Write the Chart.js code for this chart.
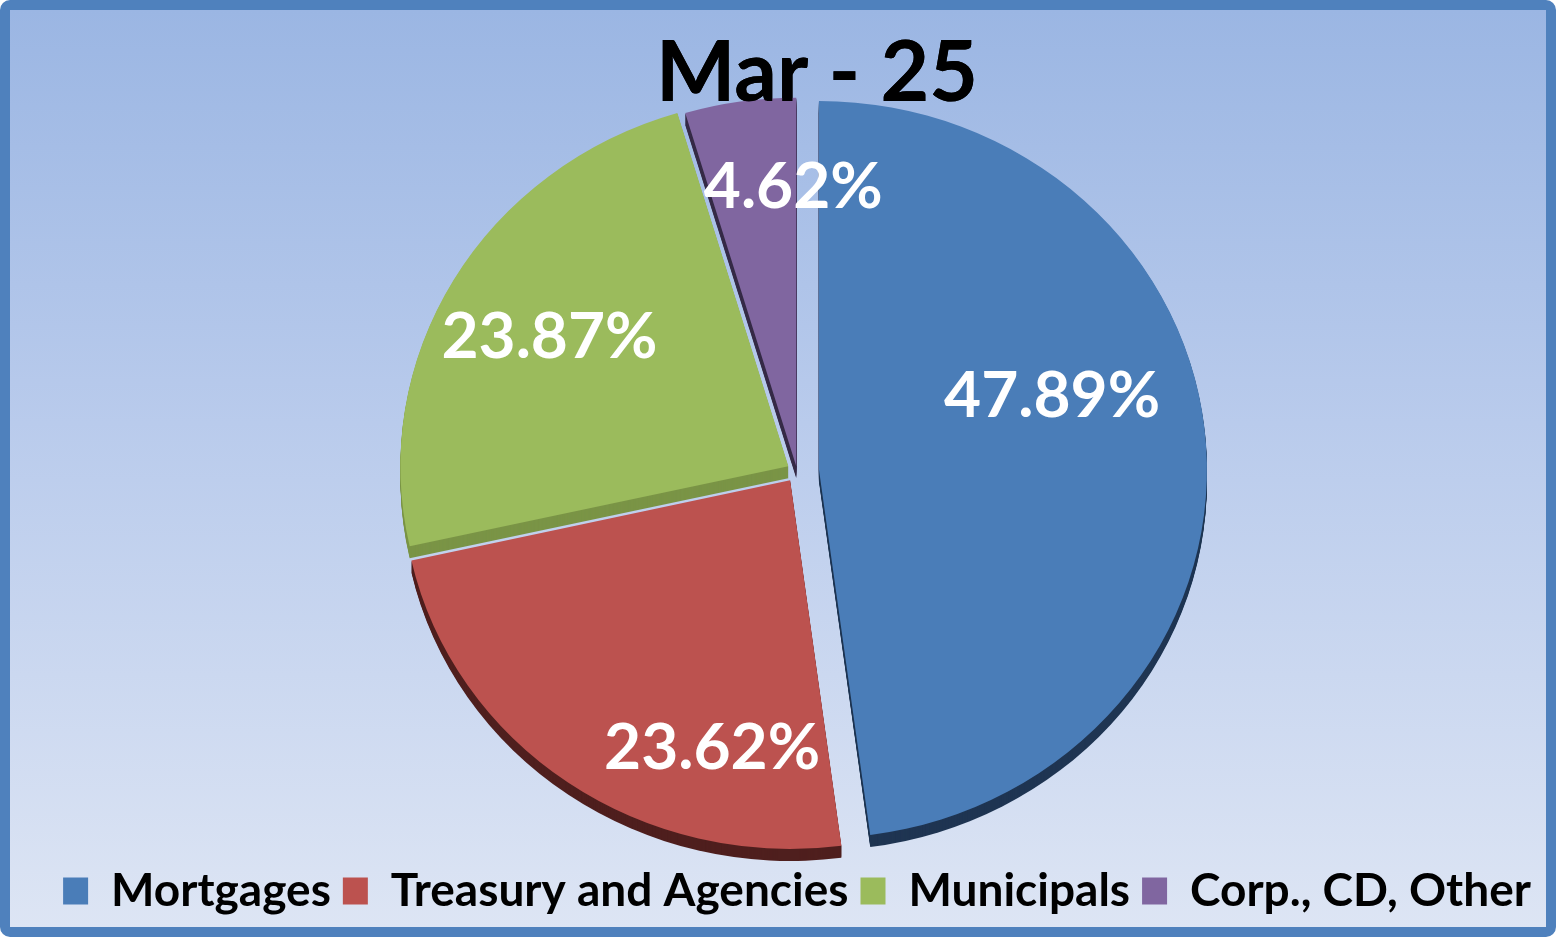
<!DOCTYPE html>
<html><head><meta charset="utf-8">
<script src="https://cdn.jsdelivr.net/npm/chart.js@4.4.1/dist/chart.umd.min.js"></script>
<style>
html,body{margin:0;padding:0;background:#fff;}
#frame{position:absolute;left:0;top:0;width:1556px;height:937px;box-sizing:border-box;border:10px solid #4f81bd;border-radius:10px;background:linear-gradient(to bottom,#9bb6e3 0%,#b9cbec 45%,#dde5f4 100%);}
#c{position:absolute;left:0;top:0;}
</style></head><body>
<div id="frame"></div>
<canvas id="c" width="1556" height="937"></canvas>
<script>
// ---- data ----
const chartTitle = 'Mar - 25';
const categories = ['Mortgages', 'Treasury and Agencies', 'Municipals', 'Corp., CD, Other'];
const shares = [47.89, 23.62, 23.87, 4.62];
const valueLabels = ['47.89%', '23.62%', '23.87%', '4.62%'];

// ---- styles ----
const sliceColors = ['#4a7db8', '#bc524f', '#9bbb5c', '#8066a0'];
const sideColors = ['#1f3552', '#4f1f1e', '#7a9446', '#362b47'];

Chart.defaults.font.family = 'Lato, "Open Sans", sans-serif';

const pie3d = {
  id: 'pie3d',
  afterLayout(chart, args, opts) {
    const t = chart.titleBlock;
    if (t) { t.left += opts.titleShift; t.right += opts.titleShift; }
  },
  beforeDatasetsDraw(chart, args, opts) {
    const ctx = chart.ctx;
    const arcs = chart.getDatasetMeta(0).data;
    const sy = opts.squash;
    const place = (el, i, dy) => {
      const cx = el.x, cy = el.y;
      const h = (el.startAngle + el.endAngle) / 2;
      ctx.translate(0, dy);
      ctx.translate(cx, cy); ctx.scale(1, sy); ctx.translate(-cx, -cy);
      ctx.translate(Math.cos(h) * opts.explode[i], Math.sin(h) * opts.explode[i]);
    };
    // sides (extrusion)
    arcs.forEach((el, i) => {
      for (let d = opts.depth; d > 0; d -= 1) {
        ctx.save();
        place(el, i, d);
        ctx.beginPath();
        ctx.moveTo(el.x, el.y);
        ctx.arc(el.x, el.y, el.outerRadius, el.startAngle, el.endAngle);
        ctx.closePath();
        ctx.fillStyle = opts.sideColors[i];
        ctx.fill();
        ctx.restore();
      }
    });
    // top faces
    arcs.forEach((el, i) => {
      ctx.save();
      place(el, i, 0);
      el.draw(ctx);
      ctx.restore();
    });
    return false;
  },
  afterDraw(chart, args, opts) {
    const ctx = chart.ctx;
    const arcs = chart.getDatasetMeta(0).data;
    // title drawn above the pie
    if (chart.titleBlock) chart.titleBlock.draw(chart.chartArea);
    ctx.save();
    ctx.fillStyle = '#ffffff';
    ctx.font = 'bold ' + opts.labelSize + 'px Lato, "Open Sans", sans-serif';
    ctx.textAlign = 'center';
    ctx.textBaseline = 'middle';
    arcs.forEach((el, i) => {
      const h = (el.startAngle + el.endAngle) / 2;
      const vx = el.x + Math.cos(h) * opts.explode[i];
      const vy = el.y + Math.sin(h) * opts.explode[i] * opts.squash;
      const a = h + opts.labelAdj[i].dAng * Math.PI / 180;
      const r = opts.labelAdj[i].frac * el.outerRadius;
      ctx.fillText(valueLabels[i], vx + Math.cos(a) * r, vy + Math.sin(a) * r);
    });
    ctx.restore();
  }
};

new Chart(document.getElementById('c'), {
  type: 'pie',
  data: {
    labels: categories,
    datasets: [{
      data: shares,
      backgroundColor: sliceColors,
      borderWidth: 0,
      radius: 388,
      clip: false
    }]
  },
  options: {
    responsive: false,
    animation: false,
    events: [],
    layout: { padding: { left: 38, right: 0, top: 0, bottom: 13 } },
    plugins: {
      tooltip: { enabled: false },
      title: {
        display: true,
        text: chartTitle,
        color: '#000000',
        font: { size: 84, weight: 'bold' },
        padding: { top: 23.6, bottom: -38.4 }
      },
      legend: {
        position: 'bottom',
        labels: {
          color: '#000000',
          font: { size: 46, weight: 'bold' },
          boxWidth: 25,
          boxHeight: 27,
          padding: 12
        }
      },
      pie3d: {
        titleShift: 20,
        squash: 0.95,
        depth: 12,
        explode: [22, 12, 10, 5],
        sideColors: sideColors,
        labelSize: 64,
        labelAdj: [
          { frac: 0.63, dAng: -13.7 },
          { frac: 0.72, dAng: -18.7 },
          { frac: 0.70, dAng: -2 },
          { frac: 0.72, dAng: 7.7 }
        ]
      }
    }
  },
  plugins: [pie3d]
});
</script>
</body></html>
